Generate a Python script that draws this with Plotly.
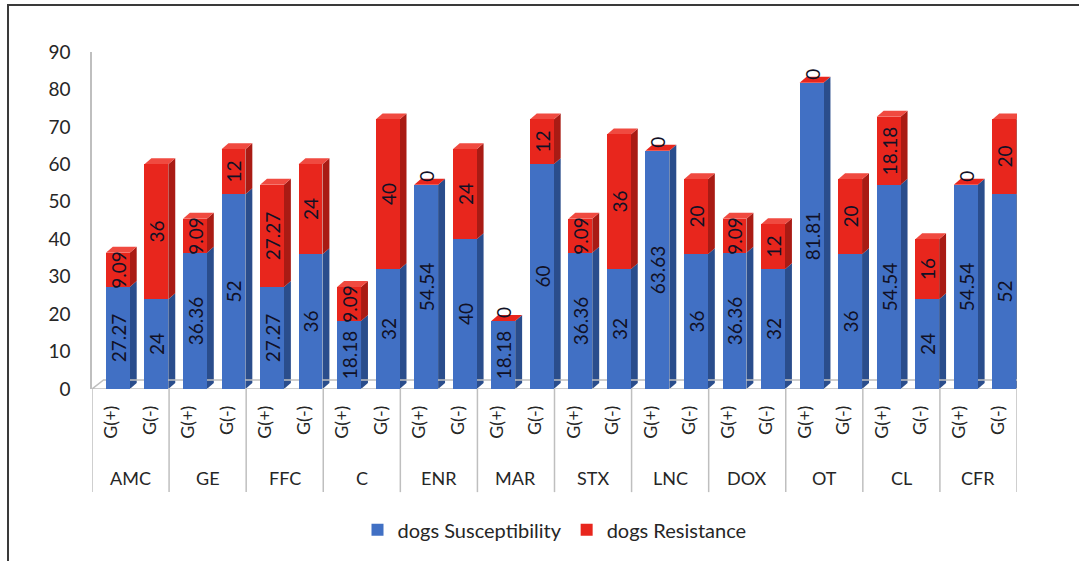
import plotly.graph_objects as go

drugs = ["AMC", "GE", "FFC", "C", "ENR", "MAR", "STX", "LNC", "DOX", "OT", "CL", "CFR"]
groups = ["G(+)", "G(-)"]
susceptibility = [27.27, 24, 36.36, 52, 27.27, 36, 18.18, 32, 54.54, 40, 18.18, 60,
                  36.36, 32, 63.63, 36, 36.36, 32, 81.81, 36, 54.54, 24, 54.54, 52]
resistance = [9.09, 36, 9.09, 12, 27.27, 24, 9.09, 40, 0, 24, 0, 12,
              9.09, 36, 0, 20, 9.09, 12, 0, 20, 18.18, 16, 0, 20]

n = len(susceptibility)
xs = list(range(n))
ticktext = [groups[i % 2] for i in range(n)]

BLUE, BLUE_SIDE = "#4170c4", "#2a4d8c"
RED, RED_SIDE, RED_TOP = "#e8261d", "#a91b14", "#f04a40"
FONT = "Lato"
TXT = "#262626"
BAR_W, BAR_OFF = 0.62, -0.14
DX, DY = 0.18, 1.6

def fmt(v):
    return f"{v:g}"

fig = go.Figure()
fig.add_trace(go.Bar(
    x=xs, y=susceptibility, name="dogs Susceptibility", marker_color=BLUE,
    marker_line_width=0, width=BAR_W, offset=BAR_OFF,
    text=[fmt(v) for v in susceptibility], textangle=-90, textposition="inside",
    insidetextanchor="middle", textfont=dict(family=FONT, size=19, color="#111126"),
))
fig.add_trace(go.Bar(
    x=xs, y=resistance, name="dogs Resistance", marker_color=RED,
    marker_line_width=0, width=BAR_W, offset=BAR_OFF,
    text=[fmt(v) for v in resistance], textangle=-90,
    textposition=["inside" if v > 0 else "outside" for v in resistance],
    insidetextanchor="middle", textfont=dict(family=FONT, size=19, color="#111126"),
    cliponaxis=False,
))

shapes = []
def para(x1, y0, y1, color):
    return dict(type="path", xref="x", yref="y", layer="below",
                path=f"M {x1},{y0} L {x1+DX},{y0+DY} L {x1+DX},{y1+DY} L {x1},{y1} Z",
                fillcolor=color, line=dict(width=0))

for i in range(n):
    left = xs[i] + BAR_OFF
    right = left + BAR_W
    s, r = susceptibility[i], resistance[i]
    shapes.append(para(right, 0, s, BLUE_SIDE))
    if r > 0:
        shapes.append(para(right, s, s + r, RED_SIDE))
    top = s + r
    shapes.append(dict(type="path", xref="x", yref="y", layer="below",
                       path=f"M {left},{top} L {left+DX},{top+DY} L {right+DX},{top+DY} L {right},{top} Z",
                       fillcolor=RED_TOP if r > 0 else RED, line=dict(width=0)))

# floor
shapes.append(dict(type="path", xref="x", yref="y", layer="below",
                   path="M -0.5,0 L -0.2,2.4 L 23.95,2.4 L 23.5,0 Z",
                   fillcolor="rgba(0,0,0,0)", line=dict(color="#bfbfbf", width=1.5)))

# category dividers
for k in range(len(drugs) + 1):
    shapes.append(dict(type="line", xref="x", yref="paper", x0=2 * k - 0.5, x1=2 * k - 0.5,
                       y0=0, y1=-0.306, line=dict(color="#bfbfbf", width=1.5)))

# outer border
shapes.append(dict(type="rect", xref="paper", yref="paper", x0=-0.0908, x1=1.3,
                   y0=-0.8, y1=1.1395, line=dict(color="#3a3a3a", width=2),
                   fillcolor="rgba(0,0,0,0)", layer="below"))

annotations = [dict(x=2 * i + 0.5, y=-0.264, xref="x", yref="paper", text=d,
                    showarrow=False, font=dict(family=FONT, size=18, color=TXT),
                    yanchor="middle", xanchor="center")
               for i, d in enumerate(drugs)]

fig.update_layout(
    width=1079, height=561,
    margin=dict(l=92, r=62, t=52, b=172),
    paper_bgcolor="white", plot_bgcolor="white",
    barmode="stack", bargap=0,
    showlegend=True,
    legend=dict(orientation="h", x=0.5, xanchor="center", y=-0.418, yanchor="middle",
                font=dict(family=FONT, size=20, color=TXT), traceorder="normal",
                itemwidth=30),
    shapes=shapes, annotations=annotations,
    uniformtext=dict(minsize=18, mode="show"),
    xaxis=dict(range=[-0.5, 23.5], tickvals=xs, ticktext=ticktext, tickangle=-90,
               showgrid=False, zeroline=False, showline=False, ticks="",
               ticklabelstandoff=12,
               tickfont=dict(family=FONT, size=18, color=TXT)),
    yaxis=dict(range=[0, 90], dtick=10, showgrid=False, zeroline=False,
               showline=True, linecolor="#bfbfbf", linewidth=1.5, ticks="",
               ticklabelstandoff=16,
               tickfont=dict(family=FONT, size=19, color=TXT)),
)

fig.write_html("out.html")
